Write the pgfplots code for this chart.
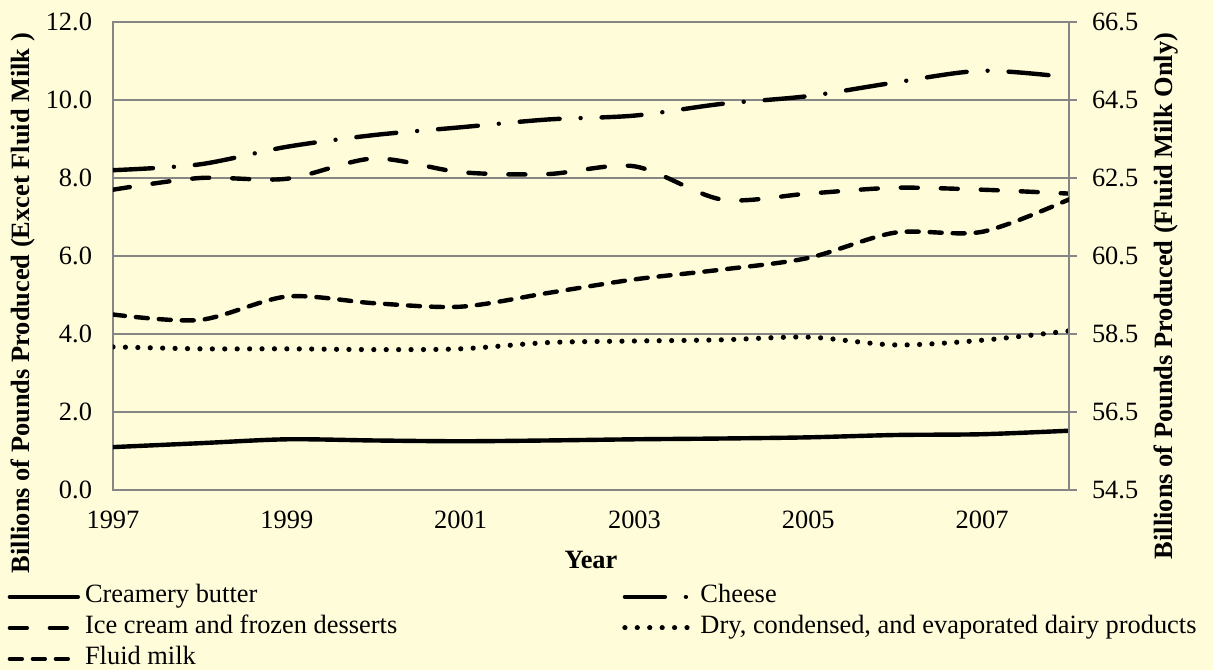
\documentclass[border=0pt]{standalone}
\usepackage{pgfplots}
\pgfplotsset{compat=1.18}
\usepackage{fontspec}
\setmainfont{Liberation Serif}
\definecolor{bg}{RGB}{255,252,218}
\definecolor{gridc}{RGB}{134,134,134}
\newcommand{\fs}{\fontsize{13.2bp}{15.5bp}\selectfont}
\tikzset{
 butter/.style={line width=2.2bp, line cap=round, solid},
 cheese/.style={line width=2.2bp, line cap=round, dash pattern=on 20bp off 10.5bp on 0.01bp off 10.5bp},
 icecream/.style={line width=2.2bp, line cap=round, dash pattern=on 8.5bp off 11.5bp},
 dry/.style={line width=2.6bp, line cap=round, dash pattern=on 0.01bp off 6.2bp},
 fluid/.style={line width=2.2bp, line cap=round, dash pattern=on 6bp off 5.5bp},
}
\begin{document}
\begin{tikzpicture}
\useasboundingbox (0,0) rectangle (606.5bp,335bp);
\fill[bg] (0,0) rectangle (606.5bp,335bp);
\begin{axis}[
  at={(56.5bp,90bp)}, anchor=south west,
  scale only axis, width=478bp, height=234bp,
  xmin=1997, xmax=2008, ymin=0, ymax=12,
  axis line style={gridc, line width=0.75bp},
  xtick={1997,1999,2001,2003,2005,2007},
  xticklabels={1997,1999,2001,2003,2005,2007},
  ytick={0,2,4,6,8,10,12},
  yticklabels={0.0,2.0,4.0,6.0,8.0,10.0,12.0},
  major tick length=0pt,
  ymajorgrids, grid style={gridc, line width=0.75bp},
  tick label style={font=\fs},
  xticklabel style={yshift=-7bp},
  yticklabel style={xshift=-7bp},
  xlabel={Year},
  xlabel style={at={(axis description cs:0.5,-0.1496)}, anchor=center, font=\fs\bfseries},
  ylabel={Billions of Pounds Produced (Excet Fluid Milk )},
  ylabel style={at={(axis description cs:-0.094,0.3996)}, anchor=center, font=\fs\bfseries},
  legend columns=2,
  legend cell align=left,
  legend image code/.code={\draw[#1] (0bp,0bp) -- (34bp,0bp);},
  legend style={at={(axis description cs:-0.1106,-0.1944)}, anchor=north west,
    draw=none, fill=none, inner sep=0pt, font=\fs,
    /tikz/every even column/.append style={column sep=110bp},
    nodes={inner sep=1bp, inner xsep=2.5bp, text height=9.75bp, text depth=3.75bp}},
]
\addplot[butter, smooth, tension=0.5] coordinates {
(1997,1.10) (1998,1.20) (1999,1.30) (2000,1.27) (2001,1.25) (2002,1.27)
(2003,1.30) (2004,1.32) (2005,1.35) (2006,1.41) (2007,1.43) (2008,1.52)};
\addlegendentry{Creamery butter}
\addplot[cheese, smooth, tension=0.5] coordinates {
(1997,8.20) (1998,8.35) (1999,8.80) (2000,9.10) (2001,9.30) (2002,9.50)
(2003,9.60) (2004,9.90) (2005,10.10) (2006,10.45) (2007,10.75) (2008,10.58)};
\addlegendentry{Cheese}
\addplot[icecream, smooth, tension=0.5] coordinates {
(1997,7.70) (1998,8.00) (1999,7.98) (2000,8.50) (2001,8.15) (2002,8.10)
(2003,8.30) (2004,7.45) (2005,7.60) (2006,7.75) (2007,7.70) (2008,7.60)};
\addlegendentry{Ice cream and frozen desserts}
\addplot[dry, smooth, tension=0.5] coordinates {
(1997,3.67) (1998,3.62) (1999,3.62) (2000,3.60) (2001,3.62) (2002,3.78)
(2003,3.82) (2004,3.85) (2005,3.92) (2006,3.72) (2007,3.84) (2008,4.08)};
\addlegendentry{Dry, condensed, and evaporated dairy products}
\addlegendimage{fluid}
\addlegendentry{Fluid milk}
\end{axis}
\begin{axis}[
  at={(56.5bp,90bp)}, anchor=south west,
  scale only axis, width=478bp, height=234bp,
  xmin=1997, xmax=2008, ymin=54.5, ymax=66.5,
  axis y line*=right, axis x line=none,
  axis line style={gridc, line width=0.75bp, -},
  ytick={54.5,56.5,58.5,60.5,62.5,64.5,66.5},
  yticklabels={54.5,56.5,58.5,60.5,62.5,64.5,66.5},
  tick align=outside, major tick length=4bp,
  tick style={gridc, line width=0.75bp},
  tick label style={font=\fs},
  yticklabel style={xshift=4bp},
  ylabel={Billions of Pounds Produced (Fluid Milk Only)},
  ylabel style={at={(axis description cs:1.102,0.4145)}, anchor=center, font=\fs\bfseries},
]
\addplot[fluid, smooth, tension=0.5] coordinates {
(1997,59.00) (1998,58.86) (1999,59.46) (2000,59.29) (2001,59.20) (2002,59.55)
(2003,59.90) (2004,60.15) (2005,60.45) (2006,61.10) (2007,61.12) (2008,61.95)};
\end{axis}
\end{tikzpicture}
\end{document}
